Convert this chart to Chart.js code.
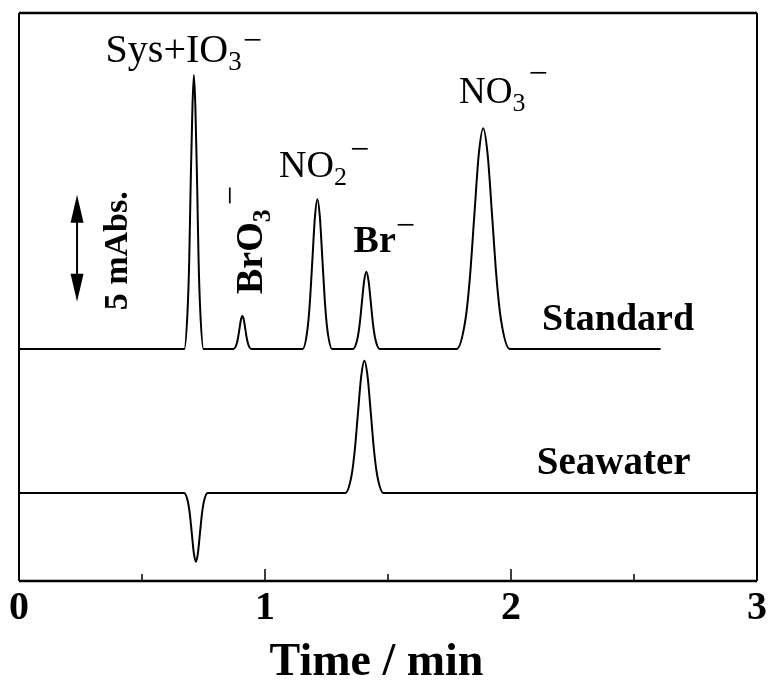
<!DOCTYPE html>
<html>
<head>
<meta charset="utf-8">
<title>Chromatogram</title>
<script src="https://cdn.jsdelivr.net/npm/chart.js"></script>
<style>
  body { margin: 0; background: #fff; }
  #chart { display: block; }
</style>
</head>
<body>
<canvas id="chart" width="771" height="691"></canvas>
<script>
// retention time (min) / absorbance above baseline (mAbs)
const standardTime = [0,
  0.672, 0.685, 0.692, 0.698, 0.705, 0.711, 0.717, 0.724, 0.730, 0.737, 0.750,
  0.872, 0.884, 0.890, 0.896, 0.902, 0.908, 0.914, 0.920, 0.926, 0.932, 0.944,
  1.153, 1.173, 1.183, 1.193, 1.203, 1.213, 1.223, 1.233, 1.243, 1.253, 1.273,
  1.358, 1.376, 1.385, 1.394, 1.403, 1.412, 1.421, 1.430, 1.439, 1.448, 1.466,
  1.779, 1.815, 1.833, 1.851, 1.869, 1.887, 1.905, 1.923, 1.941, 1.959, 1.995,
  2.608];
const standardSignal = [0,
  0, 1.73, 4.16, 7.77, 11.29, 12.80, 11.29, 7.77, 4.16, 1.73, 0,
  0, 0.21, 0.50, 0.93, 1.36, 1.54, 1.36, 0.93, 0.50, 0.21, 0,
  0, 0.95, 2.28, 4.25, 6.17, 7.00, 6.17, 4.25, 2.28, 0.95, 0,
  0, 0.49, 1.17, 2.19, 3.18, 3.61, 3.18, 2.19, 1.17, 0.49, 0,
  0, 1.39, 3.35, 6.26, 9.09, 10.31, 9.09, 6.26, 3.35, 1.39, 0,
  0];

const seawaterTime = [0,
  0.671, 0.687, 0.695, 0.703, 0.711, 0.719, 0.727, 0.735, 0.743, 0.751, 0.767,
  1.326, 1.352, 1.365, 1.378, 1.391, 1.404, 1.417, 1.430, 1.443, 1.456, 1.482,
  3.0];
const seawaterSignal = [0,
  0, -0.43, -1.04, -1.95, -2.83, -3.21, -2.83, -1.95, -1.04, -0.43, 0,
  0, 0.83, 2.01, 3.75, 5.45, 6.18, 5.45, 3.75, 2.01, 0.83, 0,
  0];

// traces are stacked: offsets of each baseline on the plot (mAbs)
const standardBaseline = 10.84;
const seawaterBaseline = 4.11;

const xTicks = [0, 0.5, 1, 1.5, 2, 2.5, 3];
const xLabels = ['0', '', '1', '', '2', '', '3'];
const scaleBar = 5; // mAbs

const serif = '"Liberation Serif", "Times New Roman", serif';
const reg = s => s + 'px ' + serif;
const bold = s => 'bold ' + s + 'px ' + serif;

function runs(ctx, px, py, parts) {
    let cx = px;
    parts.forEach(([text, font, dy, gap]) => {
        cx += gap || 0;
        ctx.font = font;
        ctx.fillText(text, cx, py + dy);
        cx += ctx.measureText(text).width;
    });
}

const decorations = {
    id: 'decorations',
    afterDatasetsDraw(chart) {
        const { ctx, chartArea: a, scales: { x, y } } = chart;
        ctx.save();
        ctx.strokeStyle = '#000';
        ctx.fillStyle = '#000';

        // frame
        ctx.lineWidth = 2.5;
        ctx.beginPath();
        ctx.moveTo(a.left, a.top); ctx.lineTo(a.right, a.top);
        ctx.moveTo(a.left, a.bottom); ctx.lineTo(a.right, a.bottom);
        ctx.stroke();
        ctx.lineWidth = 2;
        ctx.beginPath();
        ctx.moveTo(a.left, a.top); ctx.lineTo(a.left, a.bottom);
        ctx.moveTo(a.right, a.top); ctx.lineTo(a.right, a.bottom);
        ctx.stroke();

        // inward ticks
        ctx.lineWidth = 1.5;
        ctx.beginPath();
        xTicks.forEach(v => {
            const px = x.getPixelForValue(v);
            const len = Number.isInteger(v) ? 12 : 7;
            ctx.moveTo(px, a.bottom);
            ctx.lineTo(px, a.bottom - len);
        });
        ctx.stroke();

        // 5 mAbs scale bar
        const ax = x.getPixelForValue(0.236);
        const y0 = y.getPixelForValue(13.05);
        const y1 = y.getPixelForValue(13.05 + scaleBar);
        const head = 28, hw = 6.5;
        ctx.lineWidth = 2;
        ctx.beginPath();
        ctx.moveTo(ax, y1 + head - 2); ctx.lineTo(ax, y0 - head + 2);
        ctx.stroke();
        ctx.beginPath();
        ctx.moveTo(ax, y1); ctx.lineTo(ax - hw, y1 + head); ctx.lineTo(ax + hw, y1 + head); ctx.closePath();
        ctx.moveTo(ax, y0); ctx.lineTo(ax - hw, y0 - head); ctx.lineTo(ax + hw, y0 - head); ctx.closePath();
        ctx.fill();

        ctx.textAlign = 'left';
        ctx.textBaseline = 'alphabetic';
        const at = (t, v) => [x.getPixelForValue(t), y.getPixelForValue(v)];

        // peak labels
        let p = at(0.352, 24.25);
        runs(ctx, p[0], p[1], [['Sys+IO', reg(40), 0], ['3', reg(27), 8], ['\u2212', reg(34), -11, 1]]);
        p = at(1.057, 18.89);
        runs(ctx, p[0], p[1], [['NO', reg(38), 0], ['2', reg(26), 8], ['\u2212', reg(34), -17, 3]]);
        p = at(1.789, 22.34);
        runs(ctx, p[0], p[1], [['NO', reg(37), 0], ['3', reg(26), 8], ['\u2212', reg(34), -19, 3]]);
        p = at(1.36, 15.39);
        runs(ctx, p[0], p[1], [['Br', bold(38), 0], ['\u2212', reg(34), -16, 0]]);

        // rotated labels
        p = at(0.988, 13.41);
        ctx.save();
        ctx.translate(p[0], p[1]);
        ctx.rotate(-Math.PI / 2);
        runs(ctx, 0, 0, [['BrO', bold(38), 0], ['3', bold(26), 8], ['\u2212', reg(34), -21, 4]]);
        ctx.restore();

        p = at(0.441, 12.65);
        ctx.save();
        ctx.translate(p[0], p[1]);
        ctx.rotate(-Math.PI / 2);
        runs(ctx, 0, 0, [['5 mAbs.', bold(34), 0]]);
        ctx.restore();

        // trace names
        p = at(2.126, 11.73);
        runs(ctx, p[0], p[1], [['Standard', bold(38), 0]]);
        p = at(2.105, 5.0);
        runs(ctx, p[0], p[1], [['Seawater', bold(39), 0]]);

        ctx.restore();
    }
};

const standardData = standardTime.map((t, i) => ({ x: t, y: standardSignal[i] + standardBaseline }));
const seawaterData = seawaterTime.map((t, i) => ({ x: t, y: seawaterSignal[i] + seawaterBaseline }));

const lineStyle = {
    borderColor: '#000',
    borderWidth: 2,
    pointRadius: 0,
    fill: false,
    cubicInterpolationMode: 'monotone'
};

new Chart(document.getElementById('chart').getContext('2d'), {
    type: 'line',
    data: {
        datasets: [
            Object.assign({ label: 'Standard', data: standardData }, lineStyle),
            Object.assign({ label: 'Seawater', data: seawaterData }, lineStyle)
        ]
    },
    options: {
        responsive: false,
        animation: false,
        devicePixelRatio: 1,
        layout: { padding: { left: 19, right: 9, top: 13, bottom: 5 } },
        plugins: { legend: { display: false }, tooltip: { enabled: false } },
        scales: {
            x: {
                type: 'linear',
                min: 0,
                max: 3,
                grid: { display: false, drawTicks: false },
                border: { display: false },
                afterBuildTicks: s => { s.ticks = xTicks.map(v => ({ value: v })); },
                ticks: {
                    autoSkip: false,
                    maxRotation: 0,
                    padding: 4,
                    color: '#000',
                    font: { family: serif, size: 40, weight: 'bold' },
                    callback: v => xLabels[xTicks.indexOf(v)] || ''
                },
                title: {
                    display: true,
                    text: 'Time / min\u00a0\u00a0',
                    color: '#000',
                    font: { family: serif, size: 46, weight: 'bold', lineHeight: 1 },
                    padding: { top: 3, bottom: 0 }
                }
            },
            y: { display: false, min: 0, max: 26.54 }
        }
    },
    plugins: [decorations]
});
</script>
</body>
</html>
